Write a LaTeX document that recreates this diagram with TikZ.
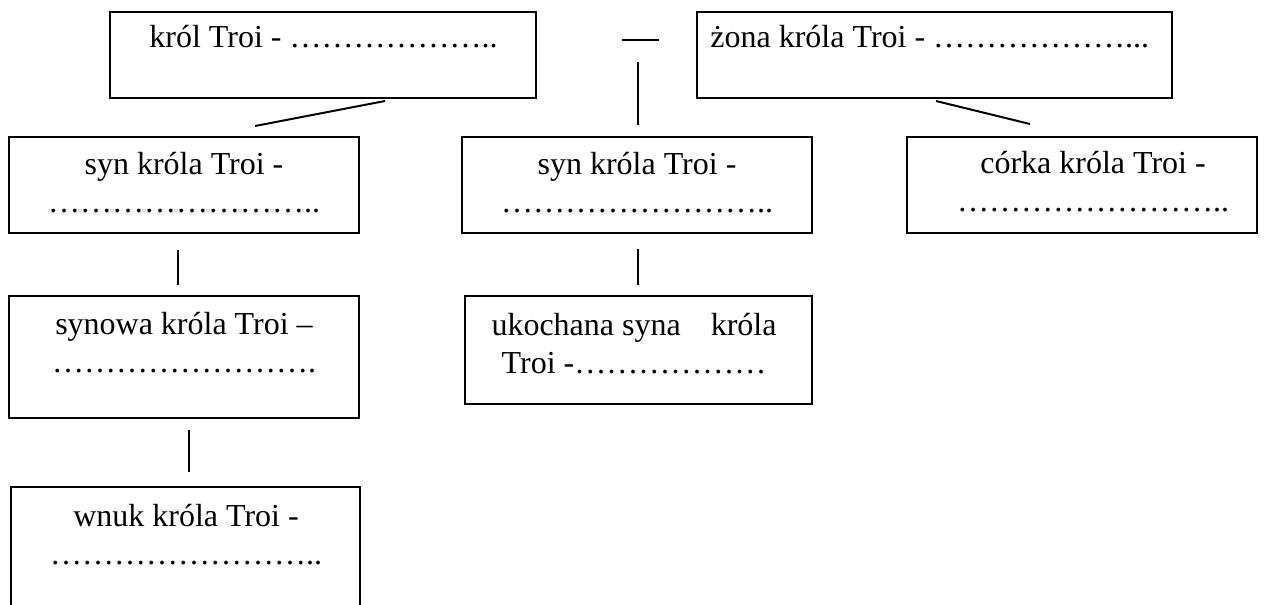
\documentclass[tikz,border=0pt]{standalone}
\usepackage{fontspec}
\setmainfont{Liberation Serif}
\usetikzlibrary{positioning}
\usetikzlibrary{fit}

\begin{document}
\begin{tikzpicture}[x = 0.5pt, y = -0.5pt]
  \tikzstyle{box}=[rectangle, draw = black!100, line width = 0.7pt, inner sep = 0pt]
  \tikzstyle{txt}=[inner sep = 0pt, font = \fontsize{16}{19}\selectfont, align = center, anchor = base]
  \tikzstyle{connect}=[line width = 1pt]

  \useasboundingbox (0,0) rectangle (1272,604);

  % boxes
  \node[box, fit = {(110,12) (536,98)}] (krol) { };
  \node[box, fit = {(697,12) (1172,98)}] (zona) { };
  \node[box, fit = {(9,137) (359,233)}] (syn) { };
  \node[box, fit = {(462,137) (812,233)}] (syndrugi) { };
  \node[box, fit = {(907,137) (1257,233)}] (corka) { };
  \node[box, fit = {(9,296) (359,418)}] (synowa) { };
  \node[box, fit = {(465,296) (812,404)}] (ukochana) { };
  \node[box, fit = {(11,487) (360,640)}] (wnuk) { };

  % texts (base = last line)
  \node[txt, anchor = base west] (krolt) at (149,48) {król Troi - ………………..};
  \node[txt, anchor = base west] (zonat) at (710,48) {żona króla Troi - ………………...};
  \node[txt] (synt) at (184,213) {syn króla Troi -\\……………………..};
  \node[txt] (syndrugit) at (637,213) {syn króla Troi -\\……………………..};
  \node[txt] (corkat) at (1093,212) {córka króla Troi -\\……………………..};
  \node[txt] (synowat) at (184,372) {synowa króla Troi –\\…………………….};
  \node[txt] (ukochanat) at (634,373) {ukochana syna\hspace{11pt} króla\\Troi -………………};
  \node[txt] (wnukt) at (186,564) {wnuk króla Troi -\\……………………..};

  % line ends
  \coordinate (para1) at (622,40);
  \coordinate (para2) at (659,40);
  \coordinate (pion1) at (638,62);
  \coordinate (pion2) at (638,125);
  \coordinate (ks1) at (385,101);
  \coordinate (ks2) at (255,126);
  \coordinate (zc1) at (936,101);
  \coordinate (zc2) at (1030,124);
  \coordinate (ss1) at (178,250);
  \coordinate (ss2) at (178,285);
  \coordinate (su1) at (638,249);
  \coordinate (su2) at (638,285);
  \coordinate (sw1) at (189,430);
  \coordinate (sw2) at (189,472);

  \path (para1) edge [connect] (para2)
        (pion1) edge [connect] (pion2)
        (ks1) edge [connect] (ks2)
        (zc1) edge [connect] (zc2);

  \path (ss1) edge [connect] (ss2)
        (su1) edge [connect] (su2);

  \path (sw1) edge [connect] (sw2);

\end{tikzpicture}
\end{document}
